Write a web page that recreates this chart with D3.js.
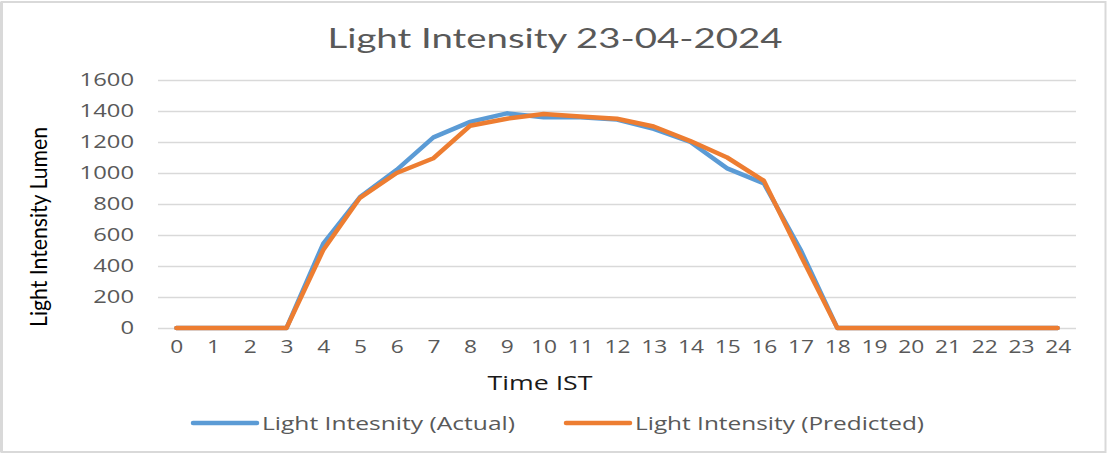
<!DOCTYPE html>
<html>
<head>
<meta charset="utf-8">
<script src="https://cdn.jsdelivr.net/npm/d3@7"></script>
<style>
  html, body { margin: 0; padding: 0; background: #fff; }
  svg { display: block; }
</style>
</head>
<body>
<svg id="chart" width="1107" height="454"></svg>
<script>
// Hourly light intensity, 23-04-2024
const hours = d3.range(0, 25).map(String);
const actual = [0, 0, 0, 0, 545, 845, 1020, 1230, 1330, 1385, 1360, 1360, 1345, 1285, 1200, 1030, 933, 505, 0, 0, 0, 0, 0, 0, 0];
const predicted = [0, 0, 0, 0, 503, 840, 1000, 1095, 1305, 1350, 1380, 1365, 1350, 1300, 1206, 1100, 950, 470, 0, 0, 0, 0, 0, 0, 0];
const yTicks = [0, 200, 400, 600, 800, 1000, 1200, 1400, 1600];
const seriesNames = ["Light Intesnity (Actual)", "Light Intensity (Predicted)"];
const seriesColors = ["#5B9BD5", "#ED7D31"];

const svg = d3.select("#chart");
const plot = { left: 158, right: 1076, top: 80, bottom: 328 };
const FONT = "'Open Sans', sans-serif";
const WIDE = "spacingAndGlyphs";

// Chart frame
svg.append("rect")
  .attr("x", 1.5).attr("y", 2).attr("width", 1104).attr("height", 450)
  .attr("fill", "#fff").attr("stroke", "#D9D9D9").attr("stroke-width", 2);
svg.append("line")
  .attr("x1", 1.5).attr("x2", 1.5).attr("y1", 2).attr("y2", 452)
  .attr("stroke", "#D9D9D9").attr("stroke-width", 3);

const x = d3.scalePoint().domain(hours).range([plot.left, plot.right]).padding(0.5);
const y = d3.scaleLinear().domain([0, 1600]).range([plot.bottom, plot.top]);

// Gridlines
svg.append("g")
  .attr("transform", `translate(${plot.left},0)`)
  .call(d3.axisLeft(y).tickValues(yTicks).tickSize(-(plot.right - plot.left)).tickFormat(""))
  .call(g => g.select(".domain").remove())
  .call(g => g.selectAll("line").attr("stroke", "#D9D9D9").attr("stroke-width", 1.5));

// Y tick labels (wide digits)
svg.append("g")
  .attr("transform", `translate(${plot.left},0)`)
  .call(d3.axisLeft(y).tickValues(yTicks).tickSize(0).tickPadding(24).tickFormat(d3.format("d")))
  .call(g => g.select(".domain").remove())
  .call(g => g.selectAll("text")
    .attr("font-family", FONT)
    .attr("font-size", 18).attr("fill", "#595959")
    .attr("textLength", function () { return this.textContent.length * 13.6; })
    .attr("lengthAdjust", WIDE));

// X tick labels
svg.append("g")
  .attr("transform", `translate(0,${plot.bottom})`)
  .call(d3.axisBottom(x).tickSize(0).tickPadding(12))
  .call(g => g.select(".domain").remove())
  .call(g => g.selectAll("text")
    .attr("font-family", FONT)
    .attr("font-size", 18).attr("fill", "#595959")
    .attr("textLength", function () { return this.textContent.length * 13; })
    .attr("lengthAdjust", WIDE));

// Lines
const line = d3.line().x((d, i) => x(hours[i])).y(d => y(d));
[actual, predicted].forEach((vals, k) => {
  svg.append("path")
    .datum(vals)
    .attr("d", line)
    .attr("fill", "none")
    .attr("stroke", seriesColors[k])
    .attr("stroke-width", 4.5)
    .attr("stroke-linejoin", "round")
    .attr("stroke-linecap", "round");
});

// Title
svg.append("text")
  .attr("x", 555).attr("y", 48)
  .attr("text-anchor", "middle")
  .attr("font-family", "Lato, sans-serif")
  .attr("font-size", 27).attr("fill", "#595959")
  .attr("textLength", 455).attr("lengthAdjust", WIDE)
  .text("Light Intensity 23-04-2024");

// Axis titles
svg.append("text")
  .attr("transform", "translate(47,227) rotate(-90)")
  .attr("text-anchor", "middle")
  .attr("font-family", "Lato, sans-serif")
  .attr("font-size", 23).attr("fill", "#000")
  .attr("textLength", 200).attr("lengthAdjust", WIDE)
  .text("Light Intensity Lumen");

svg.append("text")
  .attr("x", 540).attr("y", 390)
  .attr("text-anchor", "middle")
  .attr("font-family", FONT)
  .attr("font-size", 20).attr("fill", "#1a1a1a")
  .attr("textLength", 105).attr("lengthAdjust", WIDE)
  .text("Time IST");

// Legend
const legendX = [193, 566];
const legendTextW = [253, 289];
seriesNames.forEach((name, k) => {
  const g = svg.append("g").attr("transform", `translate(${legendX[k]},423)`);
  g.append("line")
    .attr("x1", 0).attr("x2", 64).attr("y1", 0).attr("y2", 0)
    .attr("stroke", seriesColors[k]).attr("stroke-width", 4.5)
    .attr("stroke-linecap", "round");
  g.append("text")
    .attr("x", 69).attr("y", 6.5)
    .attr("font-family", FONT)
    .attr("font-size", 18).attr("fill", "#595959")
    .attr("textLength", legendTextW[k]).attr("lengthAdjust", WIDE)
    .text(name);
});
</script>
</body>
</html>
